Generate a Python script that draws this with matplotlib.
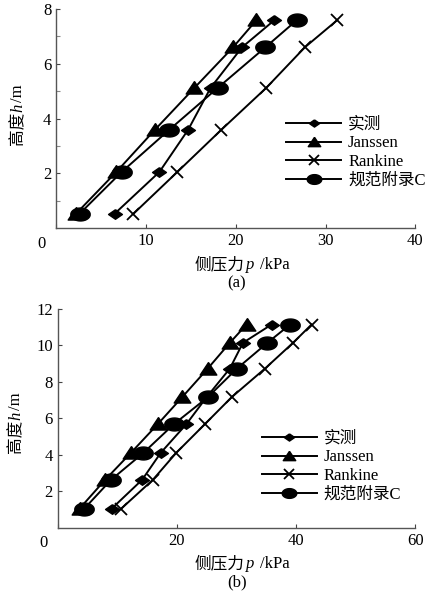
import numpy as np
import matplotlib
matplotlib.use('Agg')
from matplotlib import pyplot as plt
from matplotlib.transforms import IdentityTransform

plt.rcParams['font.family'] = ['Liberation Serif', 'Noto Sans CJK SC']
plt.rcParams['font.size'] = 11

# =============================================================================
# DATA
# =============================================================================
labels = ['实测', 'Janssen', 'Rankine', '规范附录C']

# (a)
h_a = [0.52, 2.05, 3.59, 5.12, 6.6, 7.59]
meas_a = [6.5, 11.5, 14.7, 17.2, 20.7, 24.3]
jans_a = [2.2, 6.7, 11.0, 15.4, 19.7, 22.3]
rank_a = [8.6, 13.5, 18.4, 23.4, 27.7, 31.3]
code_a = [2.6, 7.3, 12.6, 18.0, 23.3, 26.8]

# (b)
h_b = [1.05, 2.63, 4.1, 5.67, 7.15, 8.72, 10.13, 11.13]
meas_b = [9.1, 14.2, 17.3, 21.6, 25.0, 28.9, 31.1, 35.9]
jans_b = [3.7, 8.0, 12.3, 16.8, 20.9, 25.2, 28.9, 31.7]
rank_b = [10.7, 16.0, 19.9, 24.7, 29.2, 34.8, 39.5, 42.6]
code_b = [4.5, 9.0, 14.4, 19.5, 25.2, 30.1, 35.2, 39.0]

# wide marker shapes (the picture is stretched horizontally)
t = np.linspace(0, 2*np.pi, 40)
ellipse = list(zip(1.5*np.cos(t), np.sin(t)))
diamond = [(0, 1), (1.45, 0), (0, -1), (-1.45, 0), (0, 1)]
triangle = [(0, 1), (1.2, -0.8), (-1.2, -0.8), (0, 1)]

styles = [dict(marker=diamond, ms=10),
          dict(marker=triangle, ms=12),
          dict(marker='x', ms=9, mew=1.3),
          dict(marker=ellipse, ms=14)]


def draw_panel(ax, h, series, xmax, ymax, yticks, yminor, leg_anchor):
    for vals, lab, st in zip(series, labels, styles):
        ax.plot(vals, h, color='k', lw=1.4, mfc='k', mec='k', label=lab, **st)
    ax.set_xlim(0, xmax)
    ax.set_ylim(0, ymax)
    xt = np.linspace(0, xmax, 5 if xmax == 40 else 4)
    ax.set_xticks(xt)
    ax.set_xticklabels([''] + ['%d' % v for v in xt[1:]])
    ax.text(-0.04, -0.035, '0', transform=ax.transAxes, ha='center', va='top', fontsize=12)
    ax.set_yticks(yticks)
    ax.set_yticklabels(['%d' % v for v in yticks])
    if yminor:
        ax.set_yticks(yminor, minor=True)
    ax.tick_params(direction='in', length=3, width=0.8, colors='#444444', labelcolor='k', labelsize=12)
    ax.tick_params(which='minor', direction='in', length=3, width=0.8, colors='#888888')
    for s in ['top', 'right']:
        ax.spines[s].set_visible(False)
    for s in ['left', 'bottom']:
        ax.spines[s].set_color('#555555')
        ax.spines[s].set_linewidth(1.0)
    ax.legend(loc='upper left', bbox_to_anchor=leg_anchor, frameon=False,
              handlelength=3.3, handletextpad=0.4, labelspacing=0.15,
              markerscale=0.75, fontsize=12, borderpad=0)


def chain_label(fig, parts, x, y, vertical, gaps):
    # parts: list of (string, style); centred at (x, y) in pixels, x/y = baseline for the cross axis
    rend = fig.canvas.get_renderer()
    texts, sizes = [], []
    for s, st in parts:
        tx = fig.text(0, 0, s, transform=IdentityTransform(), fontsize=12, style=st,
                      rotation=90 if vertical else 0, rotation_mode='anchor',
                      ha='left', va='baseline')
        bb = tx.get_window_extent(rend)
        texts.append(tx)
        sizes.append(bb.height if vertical else bb.width)
    total = sum(sizes) + sum(gaps)
    pos = (y if vertical else x) - total/2
    for i, tx in enumerate(texts):
        tx.set_position((x, pos) if vertical else (pos, y))
        pos += sizes[i] + (gaps[i] if i < len(gaps) else 0)


fig = plt.figure(figsize=(4.39, 5.97), dpi=100)
ax1 = fig.add_axes([0.128, 0.618, 0.818, 0.367])
ax2 = fig.add_axes([0.131, 0.116, 0.815, 0.367])

draw_panel(ax1, h_a, [meas_a, jans_a, rank_a, code_a], 40, 8,
           [2, 4, 6, 8], [1, 3, 5, 7], (0.618, 0.545))
draw_panel(ax2, h_b, [meas_b, jans_b, rank_b, code_b], 60, 12,
           [2, 4, 6, 8, 10, 12], None, (0.548, 0.48))

ylab = [('高度', 'normal'), ('h', 'italic'), ('/m', 'normal')]
xlab = [('侧压力', 'normal'), ('p', 'italic'), ('/kPa', 'normal')]
chain_label(fig, ylab, 22, 482, True, [0, 1])
chain_label(fig, ylab, 20, 174, True, [0, 1])
chain_label(fig, xlab, 242, 328, False, [2, 6])
chain_label(fig, xlab, 242, 29, False, [2, 6])

fig.text(0.54, 0.525, '(a)', ha='center', va='center', fontsize=12)
fig.text(0.54, 0.025, '(b)', ha='center', va='center', fontsize=12)

fig.savefig('out.png', dpi=100)
